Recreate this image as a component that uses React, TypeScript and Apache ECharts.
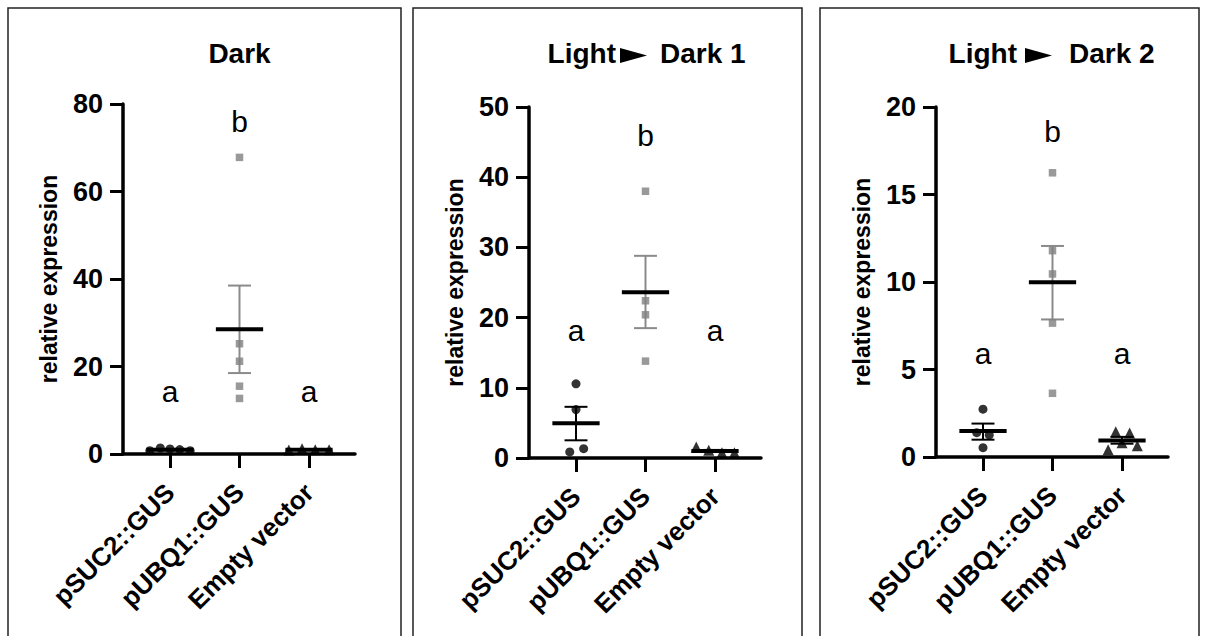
import React, { useEffect, useRef } from "react";
import * as echarts from "echarts";

const FONT = "'Liberation Sans', Arial, Helvetica, sans-serif";

// ---------- data ----------
const categories = ["pSUC2::GUS", "pUBQ1::GUS", "Empty vector"];
const titleBefore = ["", "Light", "Light"];
const titleAfter = ["Dark", "Dark 1", "Dark 2"];
const yMaxes = [80, 50, 20];
const yIntervals = [20, 10, 5];

// Dark
const darkSUC2 = [0.76, 1.37, 1.15, 1.0, 0.76];
const darkSUC2Jitter = [-0.29, -0.14, 0, 0.14, 0.29];
const darkUBQ1 = [67.8, 25.2, 21.2, 15.5, 12.7];
const darkUBQ1Jitter = [0, 0, 0, 0, 0];
const darkEmpty = [0.9, 1.2, 1.0, 1.0];
const darkEmptyJitter = [-0.29, -0.1, 0.09, 0.29];
const darkMean = [1.0, 28.5, 1.0];
const darkLow = [0.88, 18.5, 0.92];
const darkHigh = [1.12, 38.5, 1.08];
const darkLetters = ["a", "b", "a"];
const darkLetterY = [14.4, 75.9, 14.4];

// Light -> Dark 1
const ld1SUC2 = [10.57, 6.9, 1.33, 0.86];
const ld1SUC2Jitter = [0, 0, 0.11, -0.09];
const ld1UBQ1 = [38.0, 22.4, 20.4, 13.8];
const ld1UBQ1Jitter = [0, 0, 0, 0];
const ld1Empty = [1.57, 1.1, 0.76, 0.76];
const ld1EmptyJitter = [-0.27, -0.09, 0.1, 0.28];
const ld1Mean = [4.95, 23.6, 1.0];
const ld1Low = [2.52, 18.5, 0.85];
const ld1High = [7.29, 28.8, 1.15];
const ld1Letters = ["a", "b", "a"];
const ld1LetterY = [18.2, 46.0, 18.2];

// Light -> Dark 2
const ld2SUC2 = [2.73, 1.39, 1.26, 0.53];
const ld2SUC2Jitter = [0, -0.09, 0.09, 0];
const ld2UBQ1 = [16.24, 11.79, 10.46, 7.65, 3.64];
const ld2UBQ1Jitter = [0, 0, 0, 0, 0];
const ld2Empty = [1.45, 1.37, 0.82, 0.42, 0.65];
const ld2EmptyJitter = [-0.09, 0.11, 0, -0.2, 0.22];
const ld2Mean = [1.49, 9.98, 0.95];
const ld2Low = [0.99, 7.86, 0.76];
const ld2High = [1.91, 12.06, 1.15];
const ld2Letters = ["a", "b", "a"];
const ld2LetterY = [5.9, 18.6, 5.9];

const panelData = [
  { suc: darkSUC2, sucJ: darkSUC2Jitter, ubq: darkUBQ1, ubqJ: darkUBQ1Jitter, emp: darkEmpty, empJ: darkEmptyJitter, mean: darkMean, low: darkLow, high: darkHigh, letters: darkLetters, letterY: darkLetterY },
  { suc: ld1SUC2, sucJ: ld1SUC2Jitter, ubq: ld1UBQ1, ubqJ: ld1UBQ1Jitter, emp: ld1Empty, empJ: ld1EmptyJitter, mean: ld1Mean, low: ld1Low, high: ld1High, letters: ld1Letters, letterY: ld1LetterY },
  { suc: ld2SUC2, sucJ: ld2SUC2Jitter, ubq: ld2UBQ1, ubqJ: ld2UBQ1Jitter, emp: ld2Empty, empJ: ld2EmptyJitter, mean: ld2Mean, low: ld2Low, high: ld2High, letters: ld2Letters, letterY: ld2LetterY },
];

// ---------- layout / style ----------
const layout = [
  { axisX: 123, top: 104, bottom: 454, frameL: 8, frameR: 401, triL: 0, triR: 0, darkL: 0, gap: 0 },
  { axisX: 529, top: 107, bottom: 458, frameL: 413, frameR: 802, triL: 620, triR: 647, darkL: 660, gap: 4 },
  { axisX: 936, top: 107, bottom: 457, frameL: 820, frameR: 1199, triL: 1025, triR: 1052, darkL: 1069, gap: 8 },
];
const AXIS_LEN = 232;
const FIRST_OFFSET = 47;
const CAT_STEP = 69.5;
const GREY = "#808080";
const BAR_COLORS = ["#000000", "#8a8a8a", "#000000"];
const TITLE_Y = 53;

function buildOption() {
  const grid: any[] = [];
  const xAxis: any[] = [];
  const yAxis: any[] = [];
  const series: any[] = [];
  const graphic: any[] = [];

  layout.forEach((L, k) => {
    const d = panelData[k];
    const h = L.bottom - L.top;
    grid.push({ left: L.axisX, top: L.top, width: AXIS_LEN, height: h, containLabel: false });
    const dataLeft = L.axisX + FIRST_OFFSET - CAT_STEP / 2;
    grid.push({ left: dataLeft, top: L.top, width: CAT_STEP * 3, height: h, containLabel: false });

    xAxis.push({
      type: "value", gridIndex: 2 * k, min: 0, max: 1,
      axisLine: { show: true, onZero: false, lineStyle: { color: "#000", width: 3.5 } },
      axisTick: { show: false }, axisLabel: { show: false }, splitLine: { show: false },
    });
    xAxis.push({
      type: "category", gridIndex: 2 * k + 1, data: categories, position: "bottom",
      axisLine: { show: false },
      axisTick: { show: true, alignWithLabel: true, length: 14, lineStyle: { color: "#000", width: 3 } },
      axisLabel: { show: true, interval: 0, rotate: 45, margin: 34, color: "#000", fontSize: 26, fontWeight: "bold", fontFamily: FONT },
      splitLine: { show: false },
    });
    xAxis.push({ type: "value", gridIndex: 2 * k + 1, min: -0.5, max: 2.5, show: false });

    yAxis.push({
      type: "value", gridIndex: 2 * k, min: 0, max: yMaxes[k], interval: yIntervals[k],
      name: "relative expression", nameLocation: "middle", nameGap: 63,
      nameTextStyle: { color: "#000", fontSize: 23, fontWeight: "bold", fontFamily: FONT },
      axisLine: { show: true, onZero: false, lineStyle: { color: "#000", width: 3.5 } },
      axisTick: { show: true, length: 13, lineStyle: { color: "#000", width: 3 } },
      axisLabel: { color: "#000", fontSize: 27, fontWeight: "bold", fontFamily: FONT, margin: 20 },
      splitLine: { show: false },
    });
    yAxis.push({ type: "value", gridIndex: 2 * k + 1, min: 0, max: yMaxes[k], show: false });

    const xi = 3 * k + 2;
    const yi = 2 * k + 1;

    series.push({
      type: "custom", xAxisIndex: xi, yAxisIndex: yi, z: 2,
      data: d.mean.map((m, i) => [i, m, d.low[i], d.high[i]]),
      renderItem: (params: any, api: any) => {
        const i = api.value(0);
        const pm = api.coord([i, api.value(1)]);
        const pl = api.coord([i, api.value(2)]);
        const ph = api.coord([i, api.value(3)]);
        const unit = api.size([1, 0])[0];
        const mh = unit * 0.34;
        const ch = unit * 0.165;
        const col = BAR_COLORS[i];
        return {
          type: "group",
          children: [
            { type: "line", shape: { x1: pl[0], y1: pl[1], x2: ph[0], y2: ph[1] }, style: { stroke: col, lineWidth: 2 } },
            { type: "line", shape: { x1: ph[0] - ch, y1: ph[1], x2: ph[0] + ch, y2: ph[1] }, style: { stroke: col, lineWidth: 2 } },
            { type: "line", shape: { x1: pl[0] - ch, y1: pl[1], x2: pl[0] + ch, y2: pl[1] }, style: { stroke: col, lineWidth: 2 } },
            { type: "line", shape: { x1: pm[0] - mh, y1: pm[1], x2: pm[0] + mh, y2: pm[1] }, style: { stroke: "#000", lineWidth: 4 } },
          ],
        };
      },
    });

    series.push({
      type: "scatter", xAxisIndex: xi, yAxisIndex: yi, z: 3, symbol: "circle", symbolSize: 9,
      itemStyle: { color: "#000" },
      data: d.suc.map((v, j) => [0 + d.sucJ[j], v]),
    });
    series.push({
      type: "scatter", xAxisIndex: xi, yAxisIndex: yi, z: 3, symbol: "rect", symbolSize: 7.5,
      itemStyle: { color: GREY },
      data: d.ubq.map((v, j) => [1 + d.ubqJ[j], v]),
    });
    series.push({
      type: "scatter", xAxisIndex: xi, yAxisIndex: yi, z: 3, symbol: "triangle", symbolSize: 11,
      itemStyle: { color: "#000" },
      data: d.emp.map((v, j) => [2 + d.empJ[j], v]),
    });

    series.push({
      type: "custom", xAxisIndex: xi, yAxisIndex: yi, z: 4,
      data: d.letterY.map((v, i) => [i, v]),
      renderItem: (params: any, api: any) => {
        const p = api.coord([api.value(0), api.value(1)]);
        return {
          type: "text", x: p[0], y: p[1],
          style: { text: d.letters[params.dataIndex], fill: "#000", fontSize: 30, fontFamily: FONT, align: "center", verticalAlign: "middle" },
        };
      },
    });

    graphic.push({
      type: "rect", shape: { x: L.frameL, y: 8, width: L.frameR - L.frameL, height: 700 },
      style: { fill: "none", stroke: "#222", lineWidth: 1.5 }, silent: true, z: -1,
    });

    const titleStyle = { fill: "#000", fontSize: 28, fontWeight: "bold", fontFamily: FONT, verticalAlign: "middle" };
    if (titleBefore[k]) {
      graphic.push({ type: "text", x: L.triL - L.gap, y: TITLE_Y, style: { ...titleStyle, text: titleBefore[k], align: "right" } });
      graphic.push({
        type: "polygon",
        shape: { points: [[L.triL, TITLE_Y - 5], [L.triR, TITLE_Y + 2.5], [L.triL, TITLE_Y + 10]] },
        style: { fill: "#000" },
      });
      graphic.push({ type: "text", x: L.darkL, y: TITLE_Y, style: { ...titleStyle, text: titleAfter[k], align: "left" } });
    } else {
      graphic.push({ type: "text", x: L.axisX + FIRST_OFFSET + CAT_STEP, y: TITLE_Y, style: { ...titleStyle, text: titleAfter[k], align: "center" } });
    }
  });

  return {
    animation: false,
    backgroundColor: "#fff",
    textStyle: { fontFamily: FONT },
    grid, xAxis, yAxis, series, graphic,
  };
}

export default function App() {
  const ref = useRef<HTMLDivElement>(null);
  useEffect(() => {
    if (!ref.current) return;
    const chart = echarts.init(ref.current, undefined, { renderer: "svg" });
    chart.setOption(buildOption() as any);
    return () => chart.dispose();
  }, []);
  return (
    <div
      ref={ref}
      style={{ position: "fixed", left: 0, top: 0, width: 1206, height: 636, background: "#fff" }}
    />
  );
}
